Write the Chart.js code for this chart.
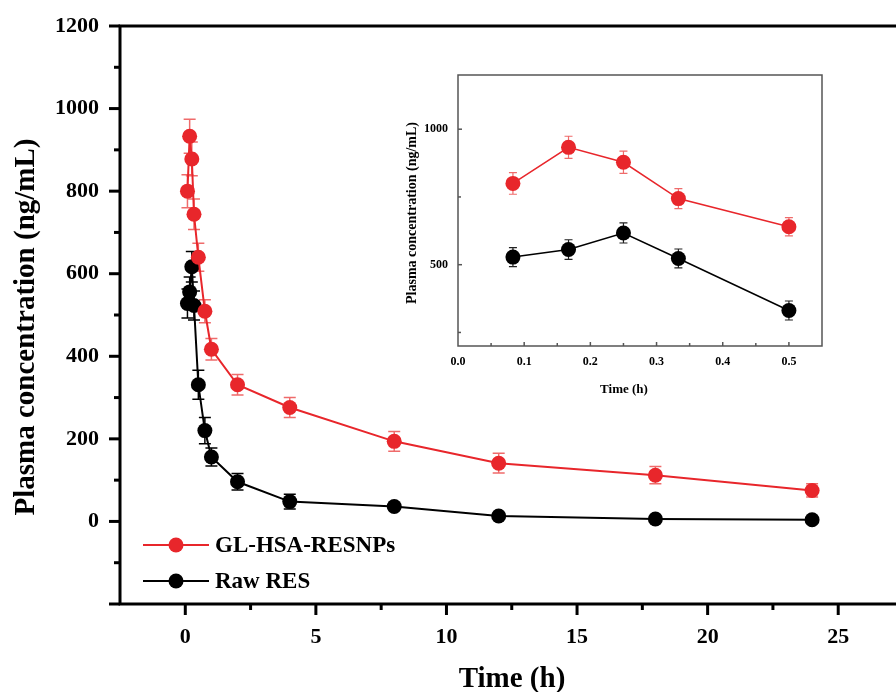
<!DOCTYPE html>
<html>
<head>
<meta charset="utf-8">
<script src="https://cdn.jsdelivr.net/npm/chart.js@4"></script>
<style>
  body { margin: 0; background: #fff; overflow: hidden; width: 896px; height: 692px; position: relative; }
  #main { position: absolute; left: 0; top: 0; }
  #inset { position: absolute; left: 395px; top: 55px; }
</style>
</head>
<body>
<canvas id="main" width="905" height="692"></canvas>
<canvas id="inset" width="435" height="345"></canvas>
<script>
// sampling times (h)
var times = [0.083, 0.167, 0.25, 0.333, 0.5, 0.75, 1, 2, 4, 8, 12, 18, 24];
// GL-HSA-RESNPs, mean and SD (ng/mL)
var nanoMean = [800, 933, 878, 744, 640, 509, 417, 331, 276, 194, 141, 112, 75];
var nanoSD   = [40, 41, 41, 37, 34, 28, 26, 25, 24, 24, 24, 21, 16];
// Raw RES
var rawMean = [528, 556, 617, 523, 331, 220, 156, 96, 48, 36, 13, 6, 4];
var rawSD   = [35, 36, 37, 35, 35, 32, 22, 20, 18, 8, 6, 5, 4];
// tick positions (labelled ones are multiples of the major step)
var mainXTicks = [-2.5, 0, 2.5, 5, 7.5, 10, 12.5, 15, 17.5, 20, 22.5, 25];
var insetYTicks = [250, 500, 750, 1000];
// inset only shows the first half hour
var insetCount = 5;

var seriesNames = ['GL-HSA-RESNPs', 'Raw RES'];
var red = '#e8262b';
var redErr = '#ef6b6b';

function pts(xs, ys) {
  return xs.map(function (x, i) { return { x: x, y: ys[i] }; });
}

function dataset(label, xs, ys, sd, color, errColor, radius, width) {
  return {
    label: label,
    data: pts(xs, ys),
    errors: sd,
    errColor: errColor,
    borderColor: color,
    backgroundColor: color,
    borderWidth: width,
    pointRadius: radius,
    pointHoverRadius: radius,
    pointBorderWidth: 0,
    tension: 0
  };
}

function isMult(v, step) {
  var r = v / step;
  return Math.abs(r - Math.round(r)) < 1e-6;
}

function fixedTicks(list) {
  return function (s) {
    s.ticks = list.map(function (v) { return { value: v }; });
  };
}

// error bars, box, tick marks, titles, legend
var decor = {
  id: 'decor',
  beforeDatasetsDraw: function (chart) {
    var o = chart.options.plugins.decor;
    var xs = chart.scales.x, ys = chart.scales.y, ctx = chart.ctx, a = chart.chartArea;
    ctx.save();
    ctx.beginPath();
    ctx.rect(a.left, a.top, a.right - a.left, a.bottom - a.top);
    ctx.clip();
    chart.data.datasets.forEach(function (ds) {
      ctx.strokeStyle = ds.errColor;
      ctx.lineWidth = o.errWidth;
      ds.data.forEach(function (p, j) {
        var e = ds.errors[j];
        var px = xs.getPixelForValue(p.x);
        var y1 = ys.getPixelForValue(p.y + e);
        var y2 = ys.getPixelForValue(p.y - e);
        ctx.beginPath();
        ctx.moveTo(px, y1); ctx.lineTo(px, y2);
        ctx.moveTo(px - o.cap, y1); ctx.lineTo(px + o.cap, y1);
        ctx.moveTo(px - o.cap, y2); ctx.lineTo(px + o.cap, y2);
        ctx.stroke();
      });
    });
    ctx.restore();
  },
  afterDraw: function (chart) {
    var o = chart.options.plugins.decor;
    var ctx = chart.ctx, a = chart.chartArea;
    var xs = chart.scales.x, ys = chart.scales.y;
    ctx.save();
    // frame
    ctx.strokeStyle = o.frameColor;
    ctx.lineWidth = o.frameWidth;
    ctx.strokeRect(a.left, a.top, a.right - a.left, a.bottom - a.top);
    // tick marks
    var dir = o.inward ? 1 : -1;
    xs.ticks.forEach(function (t) {
      var len = isMult(t.value, o.majorX) ? o.major : o.minor;
      var px = xs.getPixelForValue(t.value);
      if (px <= a.left + 1 || px >= a.right - 1) return;
      ctx.beginPath();
      ctx.moveTo(px, a.bottom);
      ctx.lineTo(px, a.bottom - dir * len);
      ctx.stroke();
    });
    ys.ticks.forEach(function (t) {
      var len = isMult(t.value, o.majorY) ? o.major : o.minor;
      var py = ys.getPixelForValue(t.value);
      if (o.inward && (py <= a.top + 1 || py >= a.bottom - 1)) return;
      ctx.beginPath();
      ctx.moveTo(a.left, py);
      ctx.lineTo(a.left + dir * len, py);
      ctx.stroke();
    });
    // axis titles
    ctx.fillStyle = '#000';
    ctx.textAlign = 'center';
    ctx.textBaseline = 'middle';
    ctx.font = o.xTitleFont;
    ctx.fillText(o.xTitle, o.xTitleX, o.xTitleY);
    ctx.save();
    ctx.translate(o.yTitleX, o.yTitleY);
    ctx.rotate(-Math.PI / 2);
    ctx.font = o.yTitleFont;
    ctx.fillText(o.yTitle, 0, 0);
    ctx.restore();
    // legend
    if (o.showLegend) {
      chart.data.datasets.forEach(function (ds, i) {
        var ly = o.legendY + i * o.legendGap;
        ctx.strokeStyle = ds.borderColor;
        ctx.lineWidth = 2;
        ctx.beginPath();
        ctx.moveTo(o.legendX0, ly); ctx.lineTo(o.legendX1, ly);
        ctx.stroke();
        ctx.fillStyle = ds.backgroundColor;
        ctx.beginPath();
        ctx.arc((o.legendX0 + o.legendX1) / 2, ly, 7.5, 0, Math.PI * 2);
        ctx.fill();
        ctx.fillStyle = '#000';
        ctx.textAlign = 'left';
        ctx.font = o.legendFont;
        ctx.fillText(ds.label, o.legendTextX, ly + 1);
      });
    }
    ctx.restore();
  }
};

var serif = '"Liberation Serif", "Times New Roman", serif';

function noPadX(s) { s.paddingLeft = 0; s.paddingRight = 0; }
function noPadY(s) { s.paddingTop = 0; s.paddingBottom = 0; }

// main chart
new Chart(document.getElementById('main'), {
  type: 'line',
  data: {
    datasets: [
      dataset(seriesNames[0], times, nanoMean, nanoSD, red, redErr, 7.5, 2),
      dataset(seriesNames[1], times, rawMean, rawSD, '#000', '#000', 7.5, 2)
    ]
  },
  plugins: [decor],
  options: {
    responsive: false,
    devicePixelRatio: 1,
    animation: false,
    events: [],
    layout: { padding: { left: 0, top: 26, right: 2, bottom: 0 } },
    plugins: {
      legend: { display: false },
      tooltip: { enabled: false },
      decor: {
        errWidth: 1.5, cap: 6,
        frameColor: '#000', frameWidth: 3,
        inward: false, major: 11, minor: 6,
        majorX: 5, majorY: 200,
        xTitle: 'Time (h)', xTitleFont: 'bold 29px ' + serif, xTitleX: 512, xTitleY: 680,
        yTitle: 'Plasma concentration (ng/mL)', yTitleFont: 'bold 29px ' + serif, yTitleX: 27, yTitleY: 327,
        showLegend: true,
        legendX0: 143, legendX1: 209, legendTextX: 215, legendY: 545, legendGap: 36,
        legendFont: 'bold 23px ' + serif
      }
    },
    scales: {
      x: {
        type: 'linear',
        min: -2.5, max: 27.27,
        grid: { display: false, drawTicks: false },
        border: { display: false },
        afterFit: function (s) { s.height = 88; noPadX(s); },
        afterBuildTicks: fixedTicks(mainXTicks),
        ticks: {
          autoSkip: false, maxRotation: 0, padding: 20,
          color: '#000', font: { family: serif, size: 22, weight: 'bold' },
          callback: function (v) { return isMult(v, 5) ? String(Math.round(v)) : ''; }
        }
      },
      y: {
        min: -200, max: 1200,
        grid: { display: false, drawTicks: false },
        border: { display: false },
        afterFit: function (s) { s.width = 120; noPadY(s); },
        ticks: {
          stepSize: 100, autoSkip: false, padding: 21,
          color: '#000', font: { family: serif, size: 22, weight: 'bold' },
          callback: function (v) { return (isMult(v, 200) && v >= 0) ? String(v) : ''; }
        }
      }
    }
  }
});

// inset: first 30 min
new Chart(document.getElementById('inset'), {
  type: 'line',
  data: {
    datasets: [
      dataset(seriesNames[0], times.slice(0, insetCount), nanoMean.slice(0, insetCount), nanoSD, red, redErr, 7.5, 1.5),
      dataset(seriesNames[1], times.slice(0, insetCount), rawMean.slice(0, insetCount), rawSD, '#000', '#222', 7.5, 1.5)
    ]
  },
  plugins: [decor],
  options: {
    responsive: false,
    devicePixelRatio: 1,
    animation: false,
    events: [],
    layout: { padding: { left: 0, top: 20, right: 8, bottom: 0 } },
    plugins: {
      legend: { display: false },
      tooltip: { enabled: false },
      decor: {
        errWidth: 1.2, cap: 4,
        frameColor: '#555', frameWidth: 1.5,
        inward: true, major: 4, minor: 3,
        majorX: 0.1, majorY: 500,
        xTitle: 'Time (h)', xTitleFont: 'bold 13px ' + serif, xTitleX: 229, xTitleY: 335,
        yTitle: 'Plasma concentration (ng/mL)', yTitleFont: 'bold 14px ' + serif, yTitleX: 17, yTitleY: 158,
        showLegend: false
      }
    },
    scales: {
      x: {
        type: 'linear',
        min: 0, max: 0.55,
        grid: { display: false, drawTicks: false },
        border: { display: false },
        afterFit: function (s) { s.height = 54; noPadX(s); },
        ticks: {
          stepSize: 0.05, autoSkip: false, maxRotation: 0, padding: 9,
          color: '#000', font: { family: serif, size: 12, weight: 'bold' },
          callback: function (v) { return isMult(v, 0.1) ? v.toFixed(1) : ''; }
        }
      },
      y: {
        min: 200, max: 1200,
        grid: { display: false, drawTicks: false },
        border: { display: false },
        afterFit: function (s) { s.width = 63; noPadY(s); },
        afterBuildTicks: fixedTicks(insetYTicks),
        ticks: {
          autoSkip: false, padding: 10,
          color: '#000', font: { family: serif, size: 12, weight: 'bold' },
          callback: function (v) { return isMult(v, 500) ? String(v) : ''; }
        }
      }
    }
  }
});
</script>
</body>
</html>
